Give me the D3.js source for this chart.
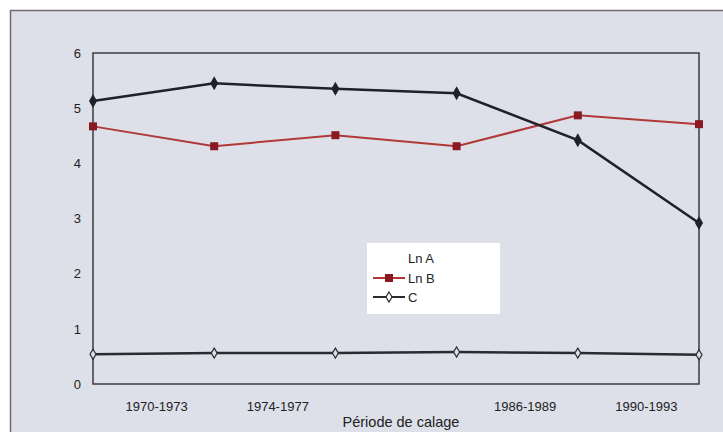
<!DOCTYPE html>
<html><head><meta charset="utf-8">
<script src="https://cdn.jsdelivr.net/npm/d3@7"></script>
<style>body{margin:0;background:#fff}svg{display:block}text{font-family:"Liberation Sans",Arial,sans-serif}</style>
</head><body><svg id="c" width="723" height="432"></svg>
<script>
const categories = ["1970-1973","1974-1977","1978-1981","1982-1985","1986-1989","1990-1993"];
const tickLabels = ["1970-1973","1974-1977","","1986-1989","1990-1993",""];
const lnA = [5.13, 5.45, 5.35, 5.27, 4.42, 2.92];
const lnB = [4.67, 4.31, 4.51, 4.31, 4.87, 4.71];
const serC = [0.54, 0.56, 0.56, 0.58, 0.56, 0.53];
const yTicks = [0,1,2,3,4,5,6];

const svg = d3.select("#c");
// outer frame
svg.append("rect").attr("x",10.5).attr("y",10.5).attr("width",730).attr("height",440)
  .attr("fill","#dde0e8").attr("stroke","#7a6a70").attr("stroke-width",1.5);

const L=93, R=699, T=53, B=384;
const x = d3.scalePoint().domain(categories).range([L,R]);
const y = d3.scaleLinear().domain([0,6]).range([B,T]);

svg.append("rect").attr("x",L).attr("y",T).attr("width",R-L).attr("height",B-T)
  .attr("fill","#dde0e8").attr("stroke","#3a3a44").attr("stroke-width",1.5);

// y axis labels
const yAxis = d3.axisLeft(y).tickValues(yTicks).tickSize(0).tickPadding(12).tickFormat(d3.format("d"));
const gy = svg.append("g").attr("transform",`translate(${L},0)`).call(yAxis);
gy.select(".domain").remove();
gy.selectAll("text").attr("font-size",13).attr("fill","#222");

// x labels (between categories)
const step = x.step();
svg.append("g").selectAll("text").data(categories).join("text")
  .attr("x",(d,i)=>x(d)+step/2 + (i>=3?8:3)).attr("y",B+27).attr("text-anchor","middle")
  .attr("font-size",13).attr("fill","#222").text((d,i)=>tickLabels[i]);

svg.append("text").attr("x",401).attr("y",427).attr("text-anchor","middle")
  .attr("font-size",14.5).attr("fill","#222").text("Période de calage");

const line = d3.line().x((d,i)=>x(categories[i])).y(d=>y(d));

// C series
svg.append("path").datum(serC).attr("d",line).attr("fill","none").attr("stroke","#2a2a30").attr("stroke-width",2.5);
svg.append("g").selectAll("path").data(serC).join("path")
  .attr("transform",(d,i)=>`translate(${x(categories[i])},${y(d)})`)
  .attr("d","M0,-5L3,0L0,5L-3,0Z").attr("fill","#dde0e8").attr("stroke","#2a2a30").attr("stroke-width",1.2);

// Ln B
svg.append("path").datum(lnB).attr("d",line).attr("fill","none").attr("stroke","#b03838").attr("stroke-width",2);
svg.append("g").selectAll("rect").data(lnB).join("rect")
  .attr("x",(d,i)=>x(categories[i])-4).attr("y",d=>y(d)-4).attr("width",8).attr("height",8)
  .attr("fill","#8a1a22");

// Ln A
svg.append("path").datum(lnA).attr("d",line).attr("fill","none").attr("stroke","#1f2028").attr("stroke-width",2.5);
svg.append("g").selectAll("path").data(lnA).join("path")
  .attr("transform",(d,i)=>`translate(${x(categories[i])},${y(d)})`)
  .attr("d","M0,-7L4,0L0,7L-4,0Z").attr("fill","#1f2028");

// legend
const lg = svg.append("g");
lg.append("rect").attr("x",367).attr("y",243).attr("width",133).attr("height",71).attr("fill","#ffffff");
const lx0=373, lx1=405;
lg.append("text").attr("x",408).attr("y",263).attr("font-size",13).attr("fill","#222").text("Ln A");
lg.append("line").attr("x1",lx0).attr("x2",lx1).attr("y1",278).attr("y2",278).attr("stroke","#b03838").attr("stroke-width",2);
lg.append("rect").attr("x",385).attr("y",274).attr("width",8).attr("height",8).attr("fill","#8a1a22");
lg.append("text").attr("x",408).attr("y",283).attr("font-size",13).attr("fill","#222").text("Ln B");
lg.append("line").attr("x1",lx0).attr("x2",lx1).attr("y1",297).attr("y2",297).attr("stroke","#2a2a30").attr("stroke-width",2);
lg.append("path").attr("transform","translate(389,297)").attr("d","M0,-5L3,0L0,5L-3,0Z").attr("fill","#fff").attr("stroke","#2a2a30").attr("stroke-width",1.2);
lg.append("text").attr("x",408).attr("y",302).attr("font-size",13).attr("fill","#222").text("C");
</script></body></html>
